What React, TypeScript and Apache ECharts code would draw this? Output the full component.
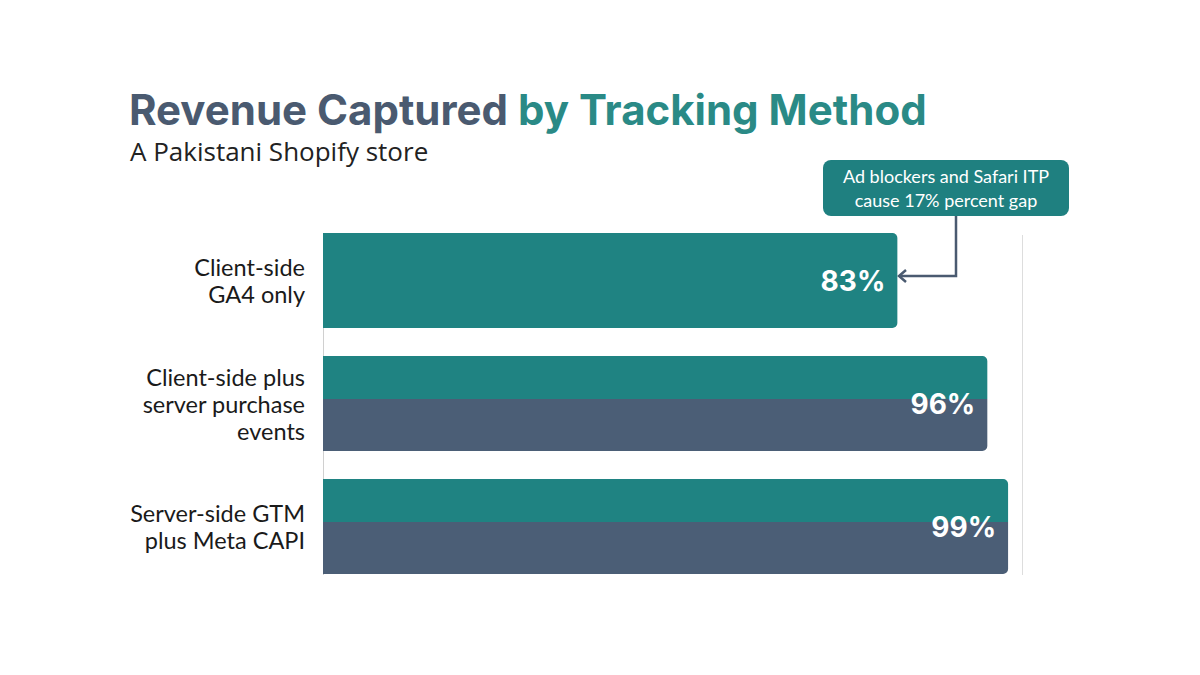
import React, { useEffect, useRef } from "react";
import * as echarts from "echarts";

const categories = [
  "Client-side\nGA4 only",
  "Client-side plus\nserver purchase\nevents",
  "Server-side GTM\nplus Meta CAPI",
];
const values = [83, 96, 99];
const twoTone = [false, true, true];
const TEAL = "#1f8382";
const SLATE = "#4b5e76";

export default function App() {
  const ref = useRef<HTMLDivElement>(null);
  useEffect(() => {
    document.body.style.margin = "0";
    if (!ref.current) return;
    const chart = echarts.init(ref.current, null, { renderer: "svg" });
    const data = values.map((v, i) => ({
      value: v,
      itemStyle: {
        color: twoTone[i]
          ? {
              type: "linear",
              x: 0,
              y: 0,
              x2: 0,
              y2: 1,
              colorStops: [
                { offset: 0, color: TEAL },
                { offset: 0.45, color: TEAL },
                { offset: 0.45, color: SLATE },
                { offset: 1, color: SLATE },
              ],
            }
          : TEAL,
      },
    }));
    chart.setOption({
      animation: false,
      backgroundColor: "#ffffff",
      grid: { left: 323, right: 185, top: 219, bottom: 87, containLabel: false },
      xAxis: {
        type: "value",
        min: 0,
        max: 100,
        show: false,
      },
      yAxis: {
        type: "category",
        data: categories,
        inverse: true,
        axisTick: { show: false },
        axisLine: { show: false },
        axisLabel: {
          color: "#1a1a1a",
          fontSize: 23.5,
          fontFamily: "Lato, 'Open Sans', sans-serif",
          lineHeight: 27,
          align: "right",
          margin: 18,
        },
      },
      series: [
        {
          type: "bar",
          data,
          barWidth: 95,
          itemStyle: { borderRadius: [0, 5, 5, 0] },
          label: {
            show: true,
            position: "insideRight",
            distance: 12,
            formatter: "{c}%",
            color: "#ffffff",
            fontSize: 28,
            fontWeight: "bold",
            fontFamily: "Inter, Lato, sans-serif",
          },
        },
      ],
      graphic: [
        {
          type: "line",
          shape: { x1: 323.5, y1: 233, x2: 323.5, y2: 575 },
          style: { stroke: "#d0d0d0", lineWidth: 1 },
          z: 0,
        },
        {
          type: "line",
          shape: { x1: 1022.5, y1: 235, x2: 1022.5, y2: 575 },
          style: { stroke: "#dddddd", lineWidth: 1 },
          z: 0,
        },
        {
          type: "text",
          left: 129,
          top: 88,
          style: {
            rich: {
              a: { fill: "#4a5a70", fontSize: 42, fontWeight: "bold", fontFamily: "Inter, Lato, sans-serif" },
              b: { fill: "#2a8a86", fontSize: 42, fontWeight: "bold", fontFamily: "Inter, Lato, sans-serif" },
            },
            text: "{a|Revenue Captured }{b|by Tracking Method}",
          },
        },
        {
          type: "text",
          left: 130,
          top: 138,
          style: {
            text: "A Pakistani Shopify store",
            fill: "#222222",
            fontSize: 26,
            fontFamily: "'Open Sans', Lato, sans-serif",
          },
        },
        {
          type: "rect",
          shape: { x: 823, y: 160, width: 246, height: 56, r: 8 },
          style: { fill: "#1f8080" },
        },
        {
          type: "text",
          x: 946,
          y: 188,
          style: {
            text: "Ad blockers and Safari ITP\ncause 17% percent gap",
            fill: "#ffffff",
            fontSize: 18,
            lineHeight: 24,
            align: "center",
            verticalAlign: "middle",
            fontFamily: "Lato, 'Open Sans', sans-serif",
          },
        },
        {
          type: "polyline",
          shape: { points: [[956, 216], [956, 276], [900, 276]] },
          style: { stroke: "#4a5a70", lineWidth: 2.5, fill: "none" },
        },
        {
          type: "polyline",
          shape: { points: [[906, 270], [899, 276], [906, 282]] },
          style: { stroke: "#4a5a70", lineWidth: 2.5, fill: "none" },
        },
      ],
    });
    return () => chart.dispose();
  }, []);
  return <div ref={ref} style={{ width: 1200, height: 675 }} />;
}
